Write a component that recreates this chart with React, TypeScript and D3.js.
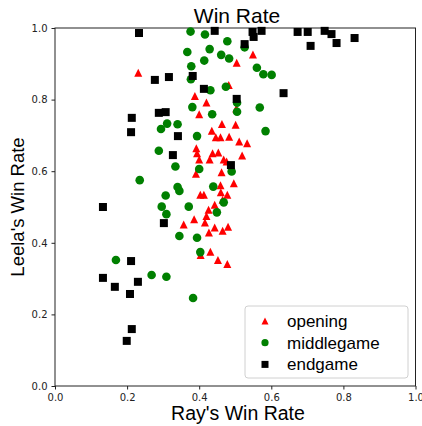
import React, { useRef, useEffect } from 'react';
import * as d3 from 'd3';

// [Ray's win rate, Leela's win rate]
const opening: [number, number][] = [
  [0.231, 0.875], [0.549, 0.926], [0.504, 0.903], [0.482, 0.841], [0.388, 0.810],
  [0.420, 0.792], [0.503, 0.775], [0.400, 0.759], [0.463, 0.732], [0.501, 0.730],
  [0.435, 0.713], [0.446, 0.695], [0.459, 0.695], [0.483, 0.696], [0.511, 0.683],
  [0.533, 0.678], [0.392, 0.664], [0.519, 0.644], [0.437, 0.650], [0.453, 0.652],
  [0.394, 0.650], [0.400, 0.633], [0.429, 0.633], [0.468, 0.633], [0.476, 0.627],
  [0.391, 0.593], [0.462, 0.597], [0.496, 0.566], [0.459, 0.561], [0.403, 0.534],
  [0.413, 0.534], [0.460, 0.541], [0.478, 0.534], [0.443, 0.506], [0.465, 0.520],
  [0.426, 0.492], [0.420, 0.475], [0.416, 0.457], [0.357, 0.451], [0.386, 0.466],
  [0.443, 0.443], [0.427, 0.429], [0.465, 0.434], [0.480, 0.445], [0.431, 0.375],
  [0.404, 0.366], [0.452, 0.352], [0.478, 0.341],
];

const middlegame: [number, number][] = [
  [0.376, 0.990], [0.416, 0.982], [0.478, 0.963], [0.367, 0.933], [0.429, 0.941],
  [0.461, 0.925], [0.483, 0.915], [0.414, 0.909], [0.526, 0.946], [0.378, 0.893],
  [0.560, 0.889], [0.578, 0.871], [0.601, 0.869], [0.377, 0.857], [0.431, 0.826],
  [0.474, 0.836], [0.381, 0.779], [0.505, 0.791], [0.505, 0.766], [0.568, 0.778],
  [0.584, 0.712], [0.436, 0.759], [0.311, 0.733], [0.294, 0.718], [0.340, 0.731],
  [0.394, 0.698], [0.288, 0.657], [0.334, 0.613], [0.400, 0.606], [0.490, 0.599],
  [0.439, 0.557], [0.340, 0.556], [0.345, 0.545], [0.307, 0.532], [0.296, 0.501],
  [0.371, 0.501], [0.309, 0.480], [0.468, 0.513], [0.449, 0.485], [0.345, 0.419],
  [0.394, 0.414], [0.403, 0.374], [0.235, 0.575], [0.169, 0.352], [0.268, 0.310],
  [0.309, 0.305], [0.383, 0.246],
];

const endgame: [number, number][] = [
  [0.233, 0.986], [0.443, 0.992], [0.548, 0.989], [0.573, 0.992], [0.551, 0.975],
  [0.526, 0.955], [0.673, 0.989], [0.701, 0.989], [0.709, 0.950], [0.748, 0.992],
  [0.767, 0.983], [0.781, 0.958], [0.831, 0.972], [0.634, 0.818], [0.504, 0.802],
  [0.382, 0.866], [0.316, 0.863], [0.277, 0.855], [0.413, 0.830], [0.307, 0.765],
  [0.288, 0.763], [0.213, 0.749], [0.211, 0.709], [0.341, 0.698], [0.327, 0.645],
  [0.488, 0.617], [0.302, 0.455], [0.133, 0.500], [0.211, 0.349], [0.133, 0.302],
  [0.166, 0.277], [0.230, 0.291], [0.208, 0.257], [0.213, 0.159], [0.199, 0.126],
];

const ticks = [0, 0.2, 0.4, 0.6, 0.8, 1.0];
const legendLabels = ['opening', 'middlegame', 'endgame'];

const width = 422;
const height = 426;
const margin = { top: 28, right: 6, bottom: 40, left: 55 };

const triangle = 'M0,-4L4,4L-4,4Z';

const App = () => {
  const svgRef = useRef<SVGSVGElement>(null);

  useEffect(() => {
    const svg = d3.select(svgRef.current);
    svg.selectAll('*').remove();

    const x = d3.scaleLinear().domain([0, 1]).range([margin.left, width - margin.right - 0.5]);
    const y = d3.scaleLinear().domain([0, 1]).range([height - margin.bottom, margin.top]);

    // axes
    const fmt = d3.format('.1f');
    const xAxis = svg.append('g')
      .attr('transform', `translate(0,${height - margin.bottom})`)
      .call(d3.axisBottom(x).tickValues(ticks).tickFormat(d => fmt(d as number)).tickSize(3.5).tickPadding(4));
    const yAxis = svg.append('g')
      .attr('transform', `translate(${margin.left},0)`)
      .call(d3.axisLeft(y).tickValues(ticks).tickFormat(d => fmt(d as number)).tickSize(3.5).tickPadding(4));
    [xAxis, yAxis].forEach(g => {
      g.select('.domain').remove();
      g.selectAll('line').attr('stroke', '#222');
      g.selectAll('text')
        .style('font-family', 'DejaVu Sans')
        .style('font-size', '10px')
        .attr('fill', '#222');
    });

    // frame
    svg.append('rect')
      .attr('x', x(0))
      .attr('y', y(1))
      .attr('width', x(1) - x(0))
      .attr('height', y(0) - y(1))
      .attr('fill', 'none')
      .attr('stroke', '#222')
      .attr('stroke-width', 1);

    const plot = svg.append('g');

    plot.selectAll('.opening')
      .data(opening)
      .enter()
      .append('path')
      .attr('d', triangle)
      .attr('transform', d => `translate(${x(d[0])},${y(d[1])})`)
      .attr('fill', '#ff0000');

    plot.selectAll('.middle')
      .data(middlegame)
      .enter()
      .append('circle')
      .attr('cx', d => x(d[0]))
      .attr('cy', d => y(d[1]))
      .attr('r', 4.3)
      .attr('fill', '#008000');

    plot.selectAll('.end')
      .data(endgame)
      .enter()
      .append('rect')
      .attr('x', d => x(d[0]) - 4)
      .attr('y', d => y(d[1]) - 4)
      .attr('width', 8)
      .attr('height', 8)
      .attr('fill', '#000');

    // titles
    const labelFont = 'Liberation Sans, Arial, sans-serif';
    svg.append('text')
      .attr('x', 237)
      .attr('y', 23)
      .attr('text-anchor', 'middle')
      .style('font-family', labelFont)
      .style('font-size', '21px')
      .text('Win Rate');

    svg.append('text')
      .attr('x', 238)
      .attr('y', 420)
      .attr('text-anchor', 'middle')
      .style('font-family', labelFont)
      .style('font-size', '19.5px')
      .text("Ray's Win Rate");

    svg.append('text')
      .attr('text-anchor', 'middle')
      .attr('transform', `translate(24, ${(y(0) + y(1)) / 2})rotate(-90)`)
      .style('font-family', labelFont)
      .style('font-size', '18.5px')
      .text("Leela's Win Rate");

    // legend
    const legend = svg.append('g').attr('transform', 'translate(245,306)');
    legend.append('rect')
      .attr('width', 163)
      .attr('height', 72)
      .attr('rx', 3)
      .attr('fill', 'white')
      .attr('fill-opacity', 0.8)
      .attr('stroke', '#d0d0d0');

    const rows = legend.selectAll('.row')
      .data(legendLabels)
      .enter()
      .append('g')
      .attr('transform', (d, i) => `translate(20,${15 + i * 21.7})`);

    rows.each(function (d, i) {
      const g = d3.select(this);
      if (i === 0) g.append('path').attr('d', 'M0,-3.5L3.5,3.5L-3.5,3.5Z').attr('fill', '#ff0000');
      if (i === 1) g.append('circle').attr('r', 3.6).attr('fill', '#008000');
      if (i === 2) g.append('rect').attr('x', -3.5).attr('y', -3.5).attr('width', 7).attr('height', 7).attr('fill', '#000');
    });

    rows.append('text')
      .attr('x', 22)
      .attr('y', 6)
      .style('font-family', labelFont)
      .style('font-size', '17px')
      .text(d => d);
  }, []);

  return (
    <svg
      ref={svgRef}
      width={width}
      height={height}
      style={{ position: 'absolute', left: 0, top: 0, background: 'white' }}
    />
  );
};

export default App;
